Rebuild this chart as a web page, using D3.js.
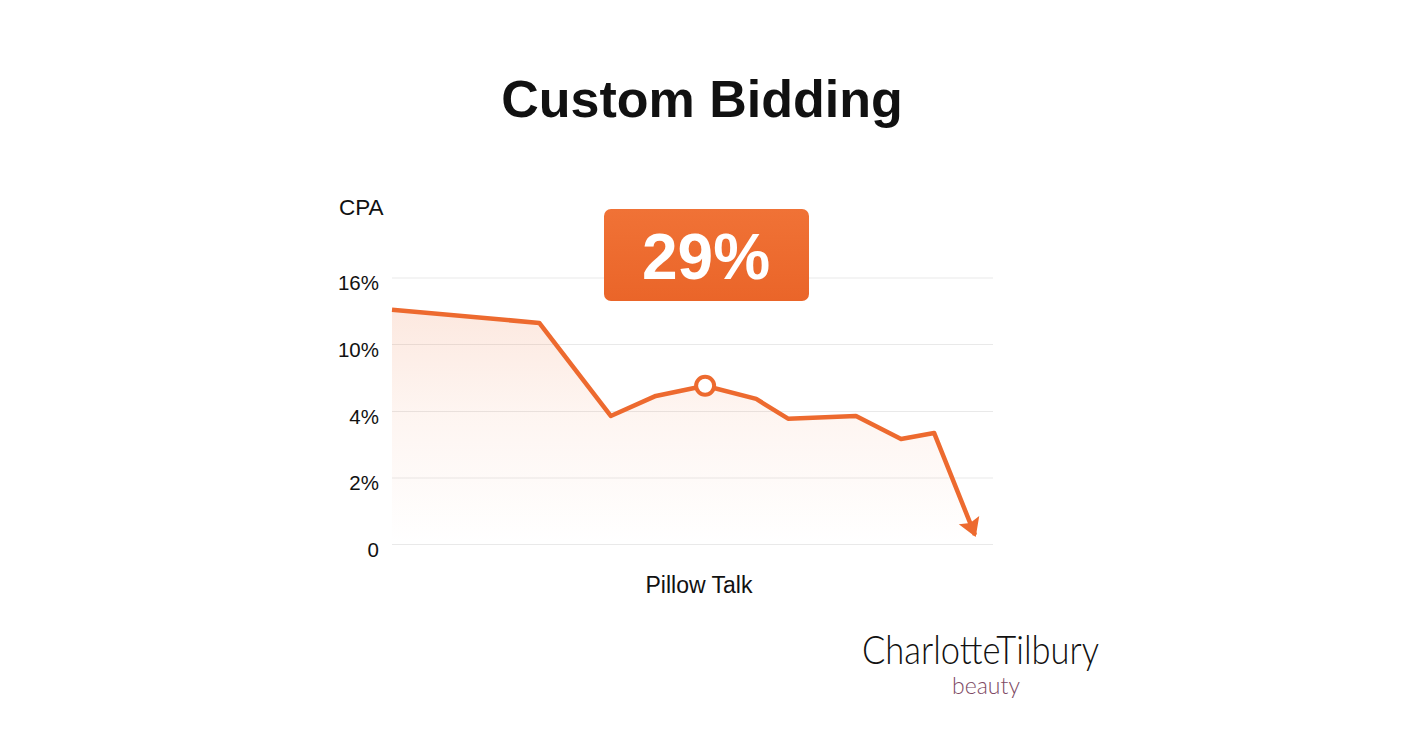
<!DOCTYPE html>
<html>
<head>
<meta charset="utf-8">
<script src="https://cdn.jsdelivr.net/npm/d3@7"></script>
<style>
  html, body { margin: 0; padding: 0; background: #ffffff; }
  svg { display: block; }
</style>
</head>
<body>
<svg id="chart" width="1408" height="736"></svg>
<script>
// ---- data ----
const title = "Custom Bidding";
const yAxisTitle = "CPA";
const xAxisLabel = "Pillow Talk";
const badgeText = "29%";
const yTickValues = [0, 2, 4, 10, 16];
const yTickLabels = ["0", "2%", "4%", "10%", "16%"];
// position along the (unlabelled) time axis, 0..100
const xPositions = [0, 24.5, 36.4, 43.9, 52.1, 60.6, 65.9, 77.2, 84.7, 90.2, 97.0];
// CPA values (%)
const cpaValues = [13.1, 11.9, 3.85, 5.35, 6.26, 5.08, 3.77, 3.85, 3.16, 3.34, 0.27];
const highlightIndex = 4;
const brandName = "CharlotteTilbury";
const brandSub = "beauty";

// ---- layout ----
const svg = d3.select("#chart");
const orange = "#ED6A2F";

const x = d3.scaleLinear().domain([0, 100]).range([392, 993]);
// evenly spaced gridlines for non-linear tick values (piecewise scale)
const y = d3.scaleLinear().domain(yTickValues).range([544, 477.5, 411, 344, 277.5]);

const data = xPositions.map((p, i) => ({ x: p, v: cpaValues[i] }));

const defs = svg.append("defs");
const grad = defs.append("linearGradient")
  .attr("id", "areaGrad").attr("gradientUnits", "userSpaceOnUse")
  .attr("x1", 0).attr("x2", 0).attr("y1", 300).attr("y2", 544);
grad.append("stop").attr("offset", "0%").attr("stop-color", orange).attr("stop-opacity", 0.16);
grad.append("stop").attr("offset", "45%").attr("stop-color", orange).attr("stop-opacity", 0.07);
grad.append("stop").attr("offset", "100%").attr("stop-color", orange).attr("stop-opacity", 0);

const bgrad = defs.append("linearGradient")
  .attr("id", "badgeGrad").attr("x1", 0).attr("x2", 0).attr("y1", 0).attr("y2", 1);
bgrad.append("stop").attr("offset", "0%").attr("stop-color", "#F07236");
bgrad.append("stop").attr("offset", "100%").attr("stop-color", "#EA6529");

defs.append("marker")
  .attr("id", "arrow")
  .attr("markerUnits", "userSpaceOnUse")
  .attr("viewBox", "0 -12 18 24")
  .attr("refX", 16).attr("refY", 0)
  .attr("markerWidth", 18).attr("markerHeight", 24)
  .attr("orient", "auto")
  .append("path")
  .attr("d", "M0,-11 L18,0 L0,11 L3,0 Z")
  .attr("fill", orange);

// title
svg.append("text")
  .attr("x", 702).attr("y", 117)
  .attr("text-anchor", "middle")
  .attr("font-family", "'Liberation Sans', Arial, sans-serif")
  .attr("font-weight", 700)
  .attr("font-size", 52)
  .attr("fill", "#111")
  .text(title);

// y axis title
svg.append("text")
  .attr("x", 339).attr("y", 215)
  .attr("font-family", "'Liberation Sans', Arial, sans-serif")
  .attr("font-size", 22.5)
  .attr("fill", "#111")
  .text(yAxisTitle);

// gridlines + tick labels via axis
const yAxis = d3.axisLeft(y)
  .tickValues(yTickValues)
  .tickFormat((d, i) => yTickLabels[i])
  .tickSize(-(993 - 392))
  .tickPadding(13);

const gAxis = svg.append("g")
  .attr("transform", "translate(392,0)")
  .call(yAxis);
gAxis.select(".domain").remove();
gAxis.selectAll(".tick line").attr("stroke", "#e9e9e9").attr("stroke-width", 1.2);
gAxis.selectAll(".tick text")
  .attr("font-family", "'Liberation Sans', Arial, sans-serif")
  .attr("font-size", 20.5)
  .attr("fill", "#111")
  .attr("dy", "0.6em");

// area
const area = d3.area()
  .x(d => x(d.x))
  .y0(y(0))
  .y1(d => y(d.v));
svg.append("path")
  .datum(data)
  .attr("d", area)
  .attr("fill", "url(#areaGrad)");

// line
const line = d3.line().x(d => x(d.x)).y(d => y(d.v));
svg.append("path")
  .datum(data)
  .attr("d", line)
  .attr("fill", "none")
  .attr("stroke", orange)
  .attr("stroke-width", 4.5)
  .attr("stroke-linejoin", "round")
  .attr("marker-end", "url(#arrow)");

// highlighted point
svg.append("circle")
  .attr("cx", x(data[highlightIndex].x))
  .attr("cy", y(data[highlightIndex].v))
  .attr("r", 9)
  .attr("fill", "#fff")
  .attr("stroke", orange)
  .attr("stroke-width", 4);

// badge
const badge = svg.append("g");
badge.append("rect")
  .attr("x", 604).attr("y", 209)
  .attr("width", 205).attr("height", 92)
  .attr("rx", 7)
  .attr("fill", "url(#badgeGrad)");
badge.append("text")
  .attr("x", 706).attr("y", 279)
  .attr("text-anchor", "middle")
  .attr("font-family", "'Liberation Sans', Arial, sans-serif")
  .attr("font-weight", 700)
  .attr("font-size", 64)
  .attr("fill", "#fff")
  .text(badgeText);

// x label
svg.append("text")
  .attr("x", 699).attr("y", 593)
  .attr("text-anchor", "middle")
  .attr("font-family", "'Liberation Sans', Arial, sans-serif")
  .attr("font-size", 23)
  .attr("fill", "#111")
  .text(xAxisLabel);

// brand
svg.append("text")
  .attr("x", 862).attr("y", 664)
  .attr("font-family", "Lato, 'Open Sans', sans-serif")
  .attr("font-weight", 300)
  .attr("font-size", 39)
  .attr("textLength", 237)
  .attr("lengthAdjust", "spacingAndGlyphs")
  .attr("fill", "#111")
  .text(brandName);
svg.append("text")
  .attr("x", 986).attr("y", 694)
  .attr("text-anchor", "middle")
  .attr("font-family", "Lato, 'Open Sans', sans-serif")
  .attr("font-weight", 300)
  .attr("font-size", 23)
  .attr("fill", "#7e4a64")
  .text(brandSub);
</script>
</body>
</html>
